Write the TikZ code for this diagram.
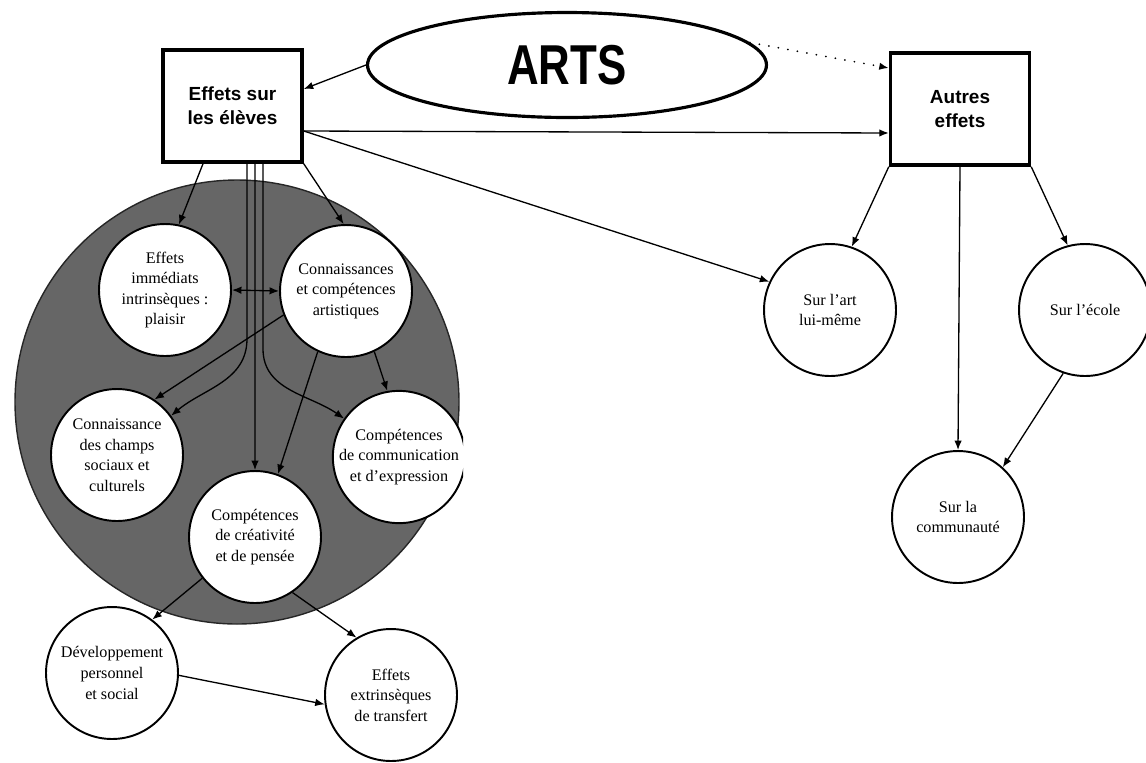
\documentclass[tikz,border=0pt]{standalone}
\usepackage{fontspec}
\usepackage{graphicx}
\setmainfont{Liberation Serif}
\newfontfamily\titrefont{Liberation Sans}
\usetikzlibrary{arrows.meta,shapes.geometric}

\tikzset{
  >={Latex[length=1.9mm,width=1.5mm]},
  cadre/.style={draw, line width=2pt, minimum width=2.78cm, minimum height=2.24cm, inner sep=0pt, align=center, font=\titrefont\bfseries\fontsize{10.8}{13.6}\selectfont},
  bulle/.style={circle, draw, line width=1.1pt, fill=white, minimum size=2.64cm, inner sep=0pt, align=center, font=\fontsize{9.2}{11.7}\selectfont},
  fleche/.style={->, line width=0.75pt},
}

\begin{document}
\begin{tikzpicture}[x=0.02cm, y=-0.02cm]
        \useasboundingbox (0,0) rectangle (1146,762);

        % Disque gris
        \fill[black!60, draw=black!85, line width=0.8pt] (237,402) circle [radius=222];

        % Boites
        \node[cadre] (eleves) at (232.5,106) {Effets sur\\les élèves};
        \node[cadre] (autres) at (960,109) {Autres\\effets};
        \node[draw, ellipse, line width=1.8pt, minimum width=7.98cm, minimum height=2.1cm, inner sep=0pt] (arts) at (567,65)
          {\scalebox{0.78}[1]{\titrefont\bfseries\fontsize{32}{32}\selectfont ARTS}};

        % Effets sur les eleves
        \node[bulle] (immediats) at (165,290) {Effets\\immédiats\\intrinsèques :\\plaisir};
        \node[bulle] (artistiques) at (346,291) {Connaissances\\et compétences\\artistiques};
        \node[bulle] (champs) at (117,455) {Connaissance\\des champs\\sociaux et\\culturels};
        \begin{scope}
          \clip (0,0) rectangle (463,762);
          \node[bulle] (communication) at (399,457) {Compétences\\de communication\\et d'expression};
        \end{scope}
        \node[bulle] (creativite) at (255,537) {Compétences\\de créativité\\et de pensée};
        \node[bulle] (developpement) at (112,673) {Développement\\personnel\\et social};
        \node[bulle] (extrinseques) at (391,695) {Effets\\extrinsèques\\de transfert};

        % Autres effets
        \node[bulle] (art) at (830,310) {Sur l’art\\lui-même};
        \node[bulle] (ecole) at (1085,310) {Sur l’école};
        \node[bulle] (communaute) at (958,517) {Sur la\\communauté};

        % Fleches ARTS
        \draw[fleche] (arts.west) -- ([yshift=0.34cm]eleves.east);
        \draw[fleche, line width=1.1pt, line cap=round, dash pattern=on 0pt off 5.5pt] (arts.7) -- ([yshift=0.82cm]autres.west);
        \draw[fleche] ([yshift=-0.5cm]eleves.east) -- ([yshift=-0.48cm]autres.west);
        \draw[fleche] ([yshift=-0.5cm]eleves.east) -- (art.155);

        % Fleches autres effets
        \draw[fleche] (autres.south west) -- (art.71);
        \draw[fleche] (autres.south) -- (communaute.north);
        \draw[fleche] (autres.south east) -- (ecole.105);
        \draw[fleche] (ecole.251) -- (communaute.48);

        % Fleches effets sur les eleves
        \draw[fleche] ([xshift=-0.59cm]eleves.south) -- (immediats.78);
        \draw[fleche] (eleves.south east) -- (artistiques.92);
        \draw[fleche] ([xshift=0.29cm]eleves.south) -- ++(0,175) to[out=-90,in=40] (champs.36);
        \draw[fleche] ([xshift=0.45cm]eleves.south) -- (creativite.north);
        \draw[fleche] ([xshift=0.61cm]eleves.south) -- ++(0,185) to[out=-90,in=145] (communication.145);
        \draw[<->, line width=0.75pt] (immediats.east) -- (artistiques.west);
        \draw[fleche] (artistiques.201) -- (champs.56);
        \draw[fleche] (artistiques.245) -- (creativite.70);
        \draw[fleche] (artistiques.295) -- (communication.100);

        % Sorties du disque
        \draw[fleche] (creativite.218) -- (developpement.53);
        \draw[fleche] (creativite.304) -- (extrinseques.121);
        \draw[fleche] (developpement.-2) -- (extrinseques.188);
      \end{tikzpicture}
\end{document}
